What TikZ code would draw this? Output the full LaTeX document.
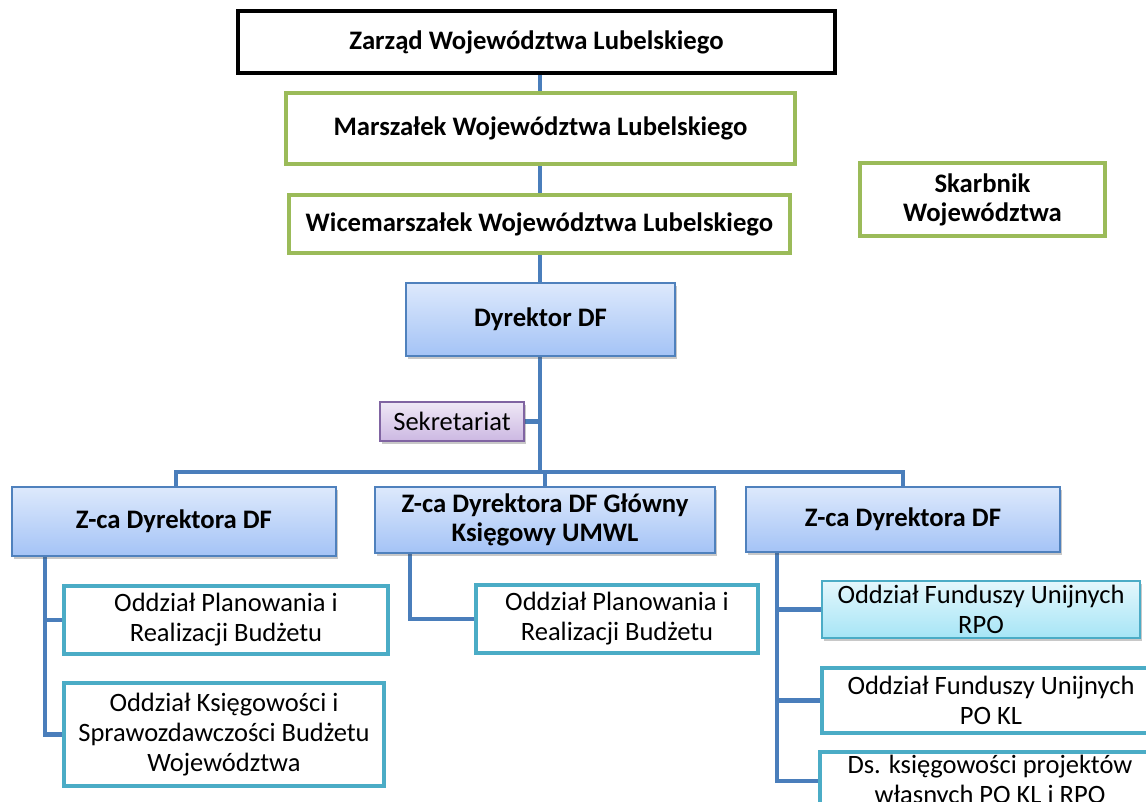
\documentclass[tikz,border=0pt]{standalone}
\usepackage{fontspec}
\setmainfont{Carlito}
\usetikzlibrary{shadows,backgrounds}
\definecolor{grn}{HTML}{9BBB59}
\definecolor{bluebd}{HTML}{4F81BD}
\definecolor{conncol}{HTML}{4A7EBB}
\definecolor{bluetop}{HTML}{DDE9FC}
\definecolor{bluebot}{HTML}{A4C3F6}
\definecolor{purbd}{HTML}{8064A2}
\definecolor{purtop}{HTML}{EFE8F6}
\definecolor{purbot}{HTML}{CCB8E2}
\definecolor{teal}{HTML}{4BACC6}
\definecolor{cyantop}{HTML}{E4F7FC}
\definecolor{cyanbot}{HTML}{A6E5F6}
\tikzset{
  base/.style={rectangle, inner sep=0pt, align=center, text=black},
  topbox/.style={base, draw=black, line width=4pt, fill=white, font=\fontsize{26.7}{29}\selectfont\bfseries},
  greenbox/.style={base, draw=grn, line width=4pt, fill=white, font=\fontsize{26.7}{29}\selectfont\bfseries},
  bluebox/.style={base, draw=bluebd, line width=2pt, top color=bluetop, bottom color=bluebot,
    drop shadow={shadow xshift=2pt, shadow yshift=-3pt, opacity=0.3, fill=black!70},
    font=\fontsize{26.7}{29}\selectfont\bfseries},
  purbox/.style={base, draw=purbd, line width=2pt, top color=purtop, bottom color=purbot,
    drop shadow={shadow xshift=2pt, shadow yshift=-3pt, opacity=0.3, fill=black!70},
    font=\fontsize{26.5}{30}\selectfont},
  tealbox/.style={base, draw=teal, line width=4pt, fill=white, font=\fontsize{26.5}{30}\selectfont},
  cyanbox/.style={base, draw=teal, line width=2pt, top color=cyantop, bottom color=cyanbot,
    drop shadow={shadow xshift=2pt, shadow yshift=-3pt, opacity=0.3, fill=black!70},
    font=\fontsize{26.5}{30}\selectfont},
  conn/.style={draw=conncol, line width=4.5pt}
}
\begin{document}
\begin{tikzpicture}[x=1pt,y=-1pt]
\useasboundingbox (0,0) rectangle (1146,802);
\clip (0,0) rectangle (1146,802);
% top chain
\node[topbox, minimum width=597pt, minimum height=62pt] (zarzad) at (536.5,42) {Zarząd Województwa Lubelskiego};
\node[greenbox, minimum width=509pt, minimum height=71pt] (marsz) at (540.5,128.5) {Marszałek Województwa Lubelskiego};
\node[greenbox, minimum width=501pt, minimum height=58pt] (wice) at (539.5,224) {Wicemarszałek Województwa Lubelskiego};
\node[greenbox, minimum width=245pt, minimum height=73pt] (skarb) at (982.5,199.5) {Skarbnik\\Województwa};
\node[bluebox, minimum width=269pt, minimum height=73pt] (dyr) at (540.5,319.5) {Dyrektor DF};
\node[purbox, minimum width=144pt, minimum height=39pt] (sekr) at (452,421.5) {Sekretariat};
% deputies
\node[bluebox, minimum width=324pt, minimum height=69pt] (zl) at (174,521.5) {Z-ca Dyrektora DF};
\node[bluebox, minimum width=340pt, minimum height=66pt] (zm) at (545,520) {Z-ca Dyrektora DF Główny\\Księgowy UMWL};
\node[bluebox, minimum width=314pt, minimum height=65pt] (zr) at (903,519.5) {Z-ca Dyrektora DF};
% units
\node[tealbox, minimum width=324pt, minimum height=68pt] (l1) at (226,620) {Oddział Planowania i\\Realizacji Budżetu};
\node[tealbox, minimum width=320pt, minimum height=103pt] (l2) at (224,734.5) {Oddział Księgowości i\\Sprawozdawczości Budżetu\\Województwa};
\node[tealbox, minimum width=282pt, minimum height=68pt] (m1) at (617,619) {Oddział Planowania i\\Realizacji Budżetu};
\node[cyanbox, minimum width=318pt, minimum height=57pt] (r1) at (981,609.5) {Oddział Funduszy Unijnych\\RPO};
\node[tealbox, minimum width=338pt, minimum height=65pt] (r2) at (991,700.5) {Oddział Funduszy Unijnych\\PO KL};
\node[tealbox, minimum width=340pt, minimum height=58pt] (r3) at (990,781) {Ds. księgowości projektów\\własnych PO KL i RPO};
% connectors
\coordinate (sp) at (540,472);
\coordinate (ls) at (45,556);
\coordinate (ms) at (410,553);
\coordinate (rs) at (777,552);
\begin{scope}[on background layer]
\fill[white] (0,0) rectangle (1146,802);
\draw[conn] (zarzad.south -| sp) -- (marsz.north -| sp);
\draw[conn] (marsz.south -| sp) -- (wice.north -| sp);
\draw[conn] (wice.south -| sp) -- (dyr.north -| sp);
\draw[conn] (dyr.south -| sp) -- (sp);
\draw[conn] (sekr.east) -- (sekr.east -| sp);
\draw[conn] (zl.north -| 176,0) |- (sp) -| (zr.north);
\draw[conn] (zm.north) -- (zm.north |- sp);
\draw[conn] (ls) |- (l1.west);
\draw[conn] (ls) |- (l2.west);
\draw[conn] (ms) |- (m1.west);
\draw[conn] (rs) |- (r1.west);
\draw[conn] (rs) |- (r2.west);
\draw[conn] (rs) |- (r3.west);
\end{scope}
\end{tikzpicture}
\end{document}
